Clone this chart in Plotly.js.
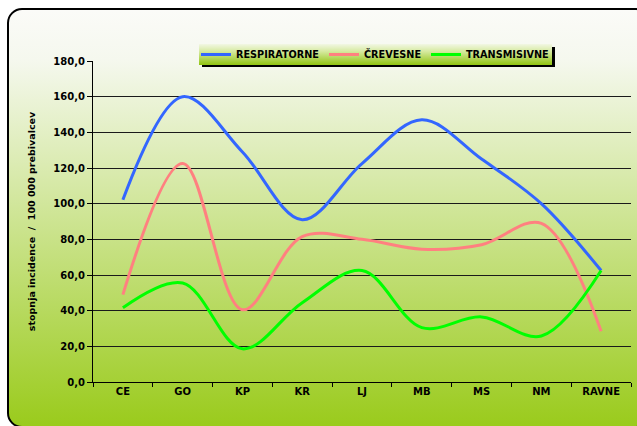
<!DOCTYPE html>
<html>
<head>
<meta charset="utf-8">
<script src="https://cdn.plot.ly/plotly-3.0.1.min.js"></script>
<style>
  html, body { margin: 0; padding: 0; background: #ffffff; overflow: hidden; }
  #frame {
    position: absolute; left: 7px; top: 8px; width: 640px; height: 416px;
    border: 2px solid #000; border-radius: 15px;
    background: linear-gradient(to bottom, #fbfbf8 0%, #f5f8ee 12%, #9acb1c 100%);
  }
  #chart { position: absolute; left: 0; top: 0; width: 637px; height: 426px; }
</style>
</head>
<body>
<div id="frame"></div>
<div id="chart"></div>
<script>
const categories = ["CE", "GO", "KP", "KR", "LJ", "MB", "MS", "NM", "RAVNE"];
const respiratorne = [102.2, 160.0, 129.0, 91.0, 122.5, 147.0, 125.0, 100.0, 62.5];
const crevesne = [49.0, 122.5, 40.5, 81.5, 80.0, 74.5, 77.0, 89.0, 28.5];
const transmisivne = [41.6, 55.5, 18.6, 44.5, 62.5, 30.5, 36.5, 25.8, 62.5];
const seriesNames = ["RESPIRATORNE", "ČREVESNE", "TRANSMISIVNE"];
const yTitle = "stopnja incidence  /  100 000 prebivalcev";

const FONT = "DejaVu Sans, Liberation Sans, sans-serif";

function mk(name, y, color) {
  return {
    type: "scatter", mode: "lines", name: name, x: categories, y: y,
    line: { color: color, width: 3, shape: "spline", smoothing: 1 },
    hoverinfo: "skip"
  };
}

const traces = [
  mk(seriesNames[0], respiratorne, "#3366ff"),
  mk(seriesNames[1], crevesne, "#ff8080"),
  mk(seriesNames[2], transmisivne, "#00ff00")
];

const L = 93, R = 631, T = 61, B = 382;
const W = 637, H = 426;
const pw = R - L, ph = B - T;

const legSvg =
  '<svg xmlns="http://www.w3.org/2000/svg" width="356" height="23" viewBox="0 0 356 23" preserveAspectRatio="none">' +
  '<defs><linearGradient id="g" x1="0" y1="0" x2="0" y2="1">' +
  '<stop offset="0" stop-color="#f2f7e4"/><stop offset="0.35" stop-color="#d6eaa0"/><stop offset="1" stop-color="#90c410"/>' +
  '</linearGradient></defs>' +
  '<rect x="3" y="3" width="353" height="20" fill="#000"/>' +
  '<rect x="0" y="0" width="353" height="21" fill="url(#g)"/>' +
  '</svg>';
const legSrc = "data:image/svg+xml;utf8," + encodeURIComponent(legSvg);

const layout = {
  width: W, height: H,
  margin: { l: L, r: W - R, t: T, b: H - B, pad: 0 },
  paper_bgcolor: "rgba(0,0,0,0)",
  plot_bgcolor: "rgba(0,0,0,0)",
  separators: ", ",
  font: { family: FONT, size: 10, color: "#000", weight: "bold" },
  showlegend: true,
  legend: {
    orientation: "h",
    x: (196 - L) / pw, xanchor: "left",
    y: 1 + (T - 40) / ph, yanchor: "top",
    bgcolor: "rgba(0,0,0,0)", borderwidth: 0,
    font: { family: FONT, size: 9.7, color: "#000", weight: "bold" },
    itemwidth: 30, tracegroupgap: 0
  },
  xaxis: {
    type: "category",
    range: [-0.5, 8.5],
    showline: true, linecolor: "#000", linewidth: 1,
    ticks: "outside", ticklen: 4, tickcolor: "#000", tickson: "boundaries",
    showgrid: false, zeroline: false,
    tickfont: { family: FONT, size: 10, color: "#000", weight: "bold" },
    fixedrange: true
  },
  yaxis: {
    range: [0, 180], dtick: 20, tick0: 0,
    tickformat: ".1f",
    showline: true, linecolor: "#000", linewidth: 1,
    ticks: "outside", ticklen: 5, tickcolor: "#000",
    showgrid: true, gridcolor: "#1a1a1a", gridwidth: 1,
    zeroline: false,
    tickfont: { family: FONT, size: 10, color: "#000", weight: "bold" },
    title: { text: yTitle, font: { family: FONT, size: 9.5, color: "#000", weight: "bold" }, standoff: 16 },
    automargin: false,
    fixedrange: true
  },
  images: [{
    source: legSrc, xref: "paper", yref: "paper",
    x: (199 - L) / pw, y: 1 + (T - 44) / ph,
    sizex: 356 / pw, sizey: 23 / ph,
    xanchor: "left", yanchor: "top", sizing: "stretch", layer: "above"
  }]
};

Plotly.newPlot("chart", traces, layout, { displayModeBar: false, staticPlot: true });
</script>
</body>
</html>
